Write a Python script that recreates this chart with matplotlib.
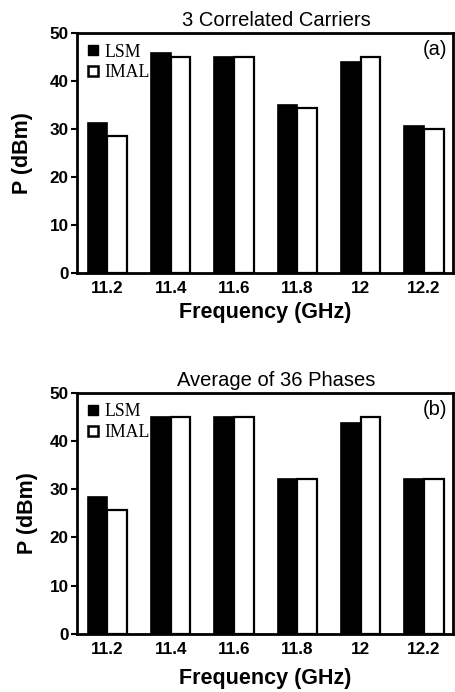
import numpy as np
import matplotlib.pyplot as plt
from matplotlib.lines import Line2D

plt.rcParams['font.family'] = ['Liberation Sans', 'DejaVu Sans']

freqs = ['11.2', '11.4', '11.6', '11.8', '12', '12.2']

# (a) 3 correlated carriers
lsm_a = [31.3, 45.8, 45.1, 35.0, 43.9, 30.6]
imal_a = [28.6, 45.1, 45.1, 34.4, 45.1, 29.9]

# (b) average of 36 phases
lsm_b = [28.3, 45.0, 45.0, 32.1, 43.8, 32.1]
imal_b = [25.7, 45.0, 45.0, 32.1, 45.0, 32.1]

titles = ['3 Correlated Carriers', 'Average of 36 Phases']
tags = ['(a)', '(b)']

fig = plt.figure(figsize=(4.55, 6.92), dpi=100)
ax_a = fig.add_axes([0.169, 0.6055, 0.827, 0.3468])
ax_b = fig.add_axes([0.169, 0.0838, 0.827, 0.3487])

x = np.arange(len(freqs))
w = 0.31

for ax, lsm, imal, title, tag, lp, ylp in [(ax_a, lsm_a, imal_a, titles[0], tags[0], 4, 12),
                                           (ax_b, lsm_b, imal_b, titles[1], tags[1], 8, 8)]:
    ax.bar(x - w / 2, lsm, w, color='black', edgecolor='black', linewidth=1.2)
    ax.bar(x + w / 2, imal, w, color='white', edgecolor='black', linewidth=1.6)
    ax.set_xlim(-0.48, 5.46)
    ax.set_ylim(0, 50)
    ax.set_yticks([0, 10, 20, 30, 40, 50])
    ax.set_xticks(x)
    ax.set_xticklabels(freqs)
    ax.tick_params(axis='x', length=0, pad=6, labelsize=12.3)
    ax.tick_params(axis='y', length=4, width=1.5, direction='out', pad=2, labelsize=12.3)
    for lab in ax.get_xticklabels() + ax.get_yticklabels():
        lab.set_fontweight('bold')
    for s in ax.spines.values():
        s.set_linewidth(2)
    ax.set_title(title, fontsize=14.5, pad=5, x=0.53)
    ax.set_xlabel('Frequency (GHz)', fontsize=15.5, fontweight='bold', labelpad=lp)
    ax.set_ylabel('P (dBm)', fontsize=15.5, fontweight='bold', labelpad=ylp)
    ax.text(0.985, 0.93, tag, transform=ax.transAxes, ha='right', va='center', fontsize=14.5)
    handles = [Line2D([], [], marker='s', ls='none', color='black', markersize=7.5),
               Line2D([], [], marker='s', ls='none', markerfacecolor='white',
                      markeredgecolor='black', markeredgewidth=1.8, markersize=7.5)]
    ax.legend(handles, ['LSM', 'IMAL'], loc='upper left', frameon=False,
              prop={'family': 'Liberation Serif', 'size': 12.8}, handlelength=0.6,
              handletextpad=0.35, labelspacing=0.2, borderaxespad=0.3, borderpad=0.3)

fig.savefig('out.png', dpi=100)
